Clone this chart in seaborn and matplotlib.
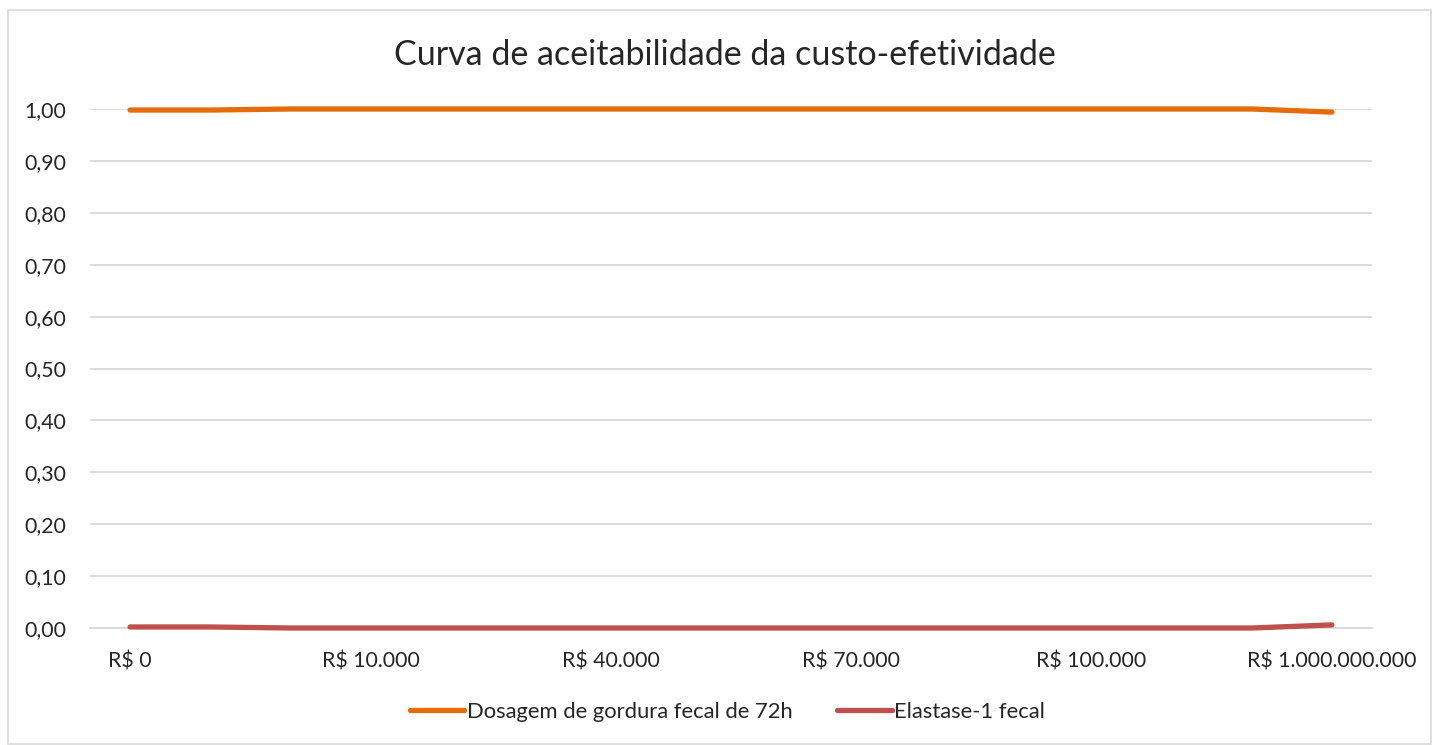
import numpy as np
import pandas as pd
import matplotlib
matplotlib.use("Agg")
import matplotlib.pyplot as plt
import matplotlib.patches as mpatches
import seaborn as sns

# ── data ──────────────────────────────────────────────────────────────────────
limiares = ["R$ 0", "R$ 1.000", "R$ 5.000", "R$ 10.000", "R$ 20.000", "R$ 30.000",
            "R$ 40.000", "R$ 50.000", "R$ 60.000", "R$ 70.000", "R$ 80.000",
            "R$ 90.000", "R$ 100.000", "R$ 1.000.000", "R$ 100.000.000",
            "R$ 1.000.000.000"]
gordura_72h = [0.998, 0.998, 1.0, 1.0, 1.0, 1.0, 1.0, 1.0, 1.0, 1.0, 1.0,
               1.0, 1.0, 1.0, 1.0, 0.994]
elastase = [0.002, 0.002, 0.0, 0.0, 0.0, 0.0, 0.0, 0.0, 0.0, 0.0, 0.0,
            0.0, 0.0, 0.0, 0.0, 0.006]
series_names = ["Dosagem de gordura fecal de 72h", "Elastase-1 fecal"]
series_colors = ["#E46C0A", "#C0504D"]
yticks = [0.0, 0.1, 0.2, 0.3, 0.4, 0.5, 0.6, 0.7, 0.8, 0.9, 1.0]

df = pd.DataFrame({
    "limiar": limiares * 2,
    "prob": gordura_72h + elastase,
    "serie": [series_names[0]] * len(limiares) + [series_names[1]] * len(limiares),
})

sns.set_theme(style="white")
plt.rcParams["font.family"] = ["Lato", "DejaVu Sans"]

W, H = 1432, 745
fig = plt.figure(figsize=(W / 100, H / 100), dpi=100)
ax = fig.add_axes([90 / W, 1 - 628 / H, (1372 - 90) / W, (628 - 109) / H])

# chart border
fig.patches.append(mpatches.Rectangle((8 / W, 1 / H), (W - 9) / W, (H - 11) / H,
                                      transform=fig.transFigure, fill=False,
                                      edgecolor="#D9D9D9", linewidth=1.2))

sns.lineplot(data=df, x="limiar", y="prob", hue="serie", palette=series_colors,
             sort=False, linewidth=3.8, ax=ax, legend=False, clip_on=False,
             solid_capstyle="round", zorder=4)

ax.set_xlim(-0.5, len(limiares) - 0.5)
ax.set_ylim(0, 1.0)
ax.set_yticks(yticks)
ax.set_yticklabels([f"{v:.2f}".replace(".", ",") for v in yticks])
ax.set_xticks(range(0, len(limiares), 3))
ax.set_xticklabels(limiares[::3])
ax.tick_params(axis="both", length=0, labelsize=15.3, colors="#262626")
ax.tick_params(axis="x", pad=17)
ax.tick_params(axis="y", pad=17)
ax.grid(axis="y", color="#D9D9D9", linewidth=1.3)
ax.set_axisbelow(True)
for side in ["top", "right", "left"]:
    ax.spines[side].set_visible(False)
ax.spines["bottom"].set_color("#D9D9D9")
ax.spines["bottom"].set_linewidth(1.3)
ax.spines["bottom"].set_zorder(1)
ax.set_xlabel("")
ax.set_ylabel("")

fig.text(0.506, 1 - 55 / H, "Curva de aceitabilidade da custo-efetividade",
         ha="center", va="center", fontsize=24.5, color="#262626")

handles = [plt.Line2D([], [], color=c, linewidth=3.8, solid_capstyle="round")
           for c in series_colors]
fig.legend(handles, series_names, loc="center", bbox_to_anchor=(0.508, 1 - 712 / H),
           ncol=2, frameon=False, fontsize=15.8, handlelength=2.5,
           handletextpad=0.1, columnspacing=2.05, labelcolor="#262626")

fig.savefig("out.png", dpi=100)
